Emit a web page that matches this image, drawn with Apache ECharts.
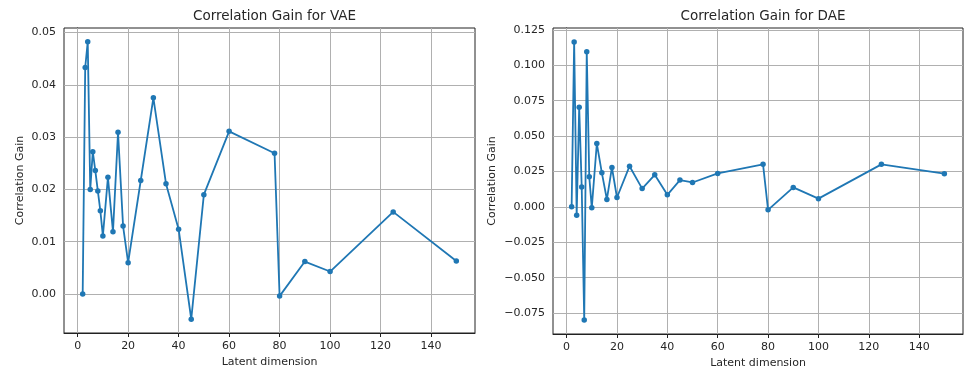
<!DOCTYPE html>
<html>
<head>
<meta charset="utf-8">
<script src="https://cdn.jsdelivr.net/npm/echarts@6/dist/echarts.min.js"></script>
<style>
  html, body { margin: 0; padding: 0; background: #fff; }
  #chart { width: 967px; height: 370px; }
</style>
</head>
<body>
<div id="chart"></div>
<script>
// latent dimensions used for both models
const latentDims = [2, 3, 4, 5, 6, 7, 8, 9, 10, 12, 14, 16, 18, 20, 25, 30, 35, 40, 45, 50, 60, 78, 80, 90, 100, 125, 150];

const vaeGain = [0.0, 0.0433, 0.0482, 0.0200, 0.0272, 0.0236, 0.0197, 0.0159, 0.0111, 0.0223, 0.0119, 0.0309,
  0.0130, 0.0060, 0.0217, 0.0375, 0.0211, 0.0124, -0.0048, 0.0190, 0.0311, 0.0269, -0.0004, 0.0062,
  0.0043, 0.0157, 0.0063];

const daeGain = [0.0, 0.1165, -0.0059, 0.0704, 0.0141, -0.0800, 0.1095, 0.0212, -0.0007, 0.0447, 0.0240, 0.0052,
  0.0278, 0.0066, 0.0287, 0.0129, 0.0226, 0.0085, 0.0189, 0.0172, 0.0236, 0.0300, -0.0021, 0.0137,
  0.0058, 0.0300, 0.0234];

const titles = ['Correlation Gain for VAE', 'Correlation Gain for DAE'];
const xTicks = [0, 20, 40, 60, 80, 100, 120, 140];
const vaeTicks = [0.00, 0.01, 0.02, 0.03, 0.04, 0.05];
const daeTicks = [-0.075, -0.050, -0.025, 0.000, 0.025, 0.050, 0.075, 0.100, 0.125];

const blue = '#1f77b4';
const textColor = '#262626';
const font = 'DejaVu Sans';

const chart = echarts.init(document.getElementById('chart'));

const fmt = (v, d) => {
  const s = Math.abs(v).toFixed(d);
  return v < -1e-9 ? '\u2212' + s : s;
};

function xAxis(gridIndex) {
  return {
    type: 'value',
    gridIndex,
    min: -5.4,
    max: 157.4,
    name: 'Latent dimension',
    nameLocation: 'middle',
    nameGap: 23,
    nameTextStyle: { color: textColor, fontFamily: font, fontSize: 11 },
    axisLine: { show: true, onZero: false, lineStyle: { color: '#222', width: 1 } },
    axisTick: { show: true, length: 4, customValues: xTicks, lineStyle: { color: '#222' } },
    axisLabel: { customValues: xTicks, color: textColor, fontFamily: font, fontSize: 11, margin: 8 },
    splitLine: { show: false }
  };
}

function yAxis(gridIndex, lo, hi, ticks, digits, gap) {
  return {
    type: 'value',
    gridIndex,
    min: lo,
    max: hi,
    name: 'Correlation Gain',
    nameLocation: 'middle',
    nameGap: gap,
    nameTextStyle: { color: textColor, fontFamily: font, fontSize: 11 },
    axisLine: { show: true, lineStyle: { color: '#222', width: 1 } },
    axisTick: { show: true, length: 4, customValues: ticks, lineStyle: { color: '#222' } },
    axisLabel: {
      customValues: ticks, color: textColor, fontFamily: font, fontSize: 11, margin: 8,
      formatter: v => fmt(v, digits)
    },
    splitLine: { show: false }
  };
}

// grid lines drawn as markLines so they sit exactly on tick values
function gridLines(xs, ys) {
  return {
    silent: true,
    symbol: 'none',
    precision: 6,
    label: { show: false },
    lineStyle: { color: '#b0b0b0', width: 1, type: 'solid' },
    data: xs.map(v => ({ xAxis: v })).concat(ys.map(v => ({ yAxis: v })))
  };
}

function lineSeries(idx, values, ticks) {
  return {
    type: 'line',
    xAxisIndex: idx,
    yAxisIndex: idx,
    data: latentDims.map((d, i) => [d, values[i]]),
    symbol: 'circle',
    symbolSize: 5.5,
    showSymbol: true,
    itemStyle: { color: blue },
    lineStyle: { color: blue, width: 1.8 },
    z: 5,
    markLine: gridLines(xTicks, ticks)
  };
}

chart.setOption({
  animation: false,
  backgroundColor: '#fff',
  title: [
    { text: titles[0], left: 269.5, top: 4, textAlign: 'center',
      textStyle: { color: textColor, fontFamily: font, fontSize: 13.5, fontWeight: 'normal' } },
    { text: titles[1], left: 758, top: 4, textAlign: 'center',
      textStyle: { color: textColor, fontFamily: font, fontSize: 13.5, fontWeight: 'normal' } }
  ],
  grid: [
    { left: 64, right: 492, top: 28, bottom: 37, outerBoundsMode: 'none', containLabel: false,
      show: true, borderColor: '#222', borderWidth: 1, backgroundColor: 'transparent' },
    { left: 553, right: 4, top: 28, bottom: 36, outerBoundsMode: 'none', containLabel: false,
      show: true, borderColor: '#222', borderWidth: 1, backgroundColor: 'transparent' }
  ],
  xAxis: [xAxis(0), xAxis(1)],
  yAxis: [
    yAxis(0, -0.00745, 0.05085, vaeTicks, 2, 38),
    yAxis(1, -0.0898, 0.1263, daeTicks, 3, 55)
  ],
  series: [
    lineSeries(0, vaeGain, vaeTicks),
    lineSeries(1, daeGain, daeTicks)
  ]
});
</script>
</body>
</html>
